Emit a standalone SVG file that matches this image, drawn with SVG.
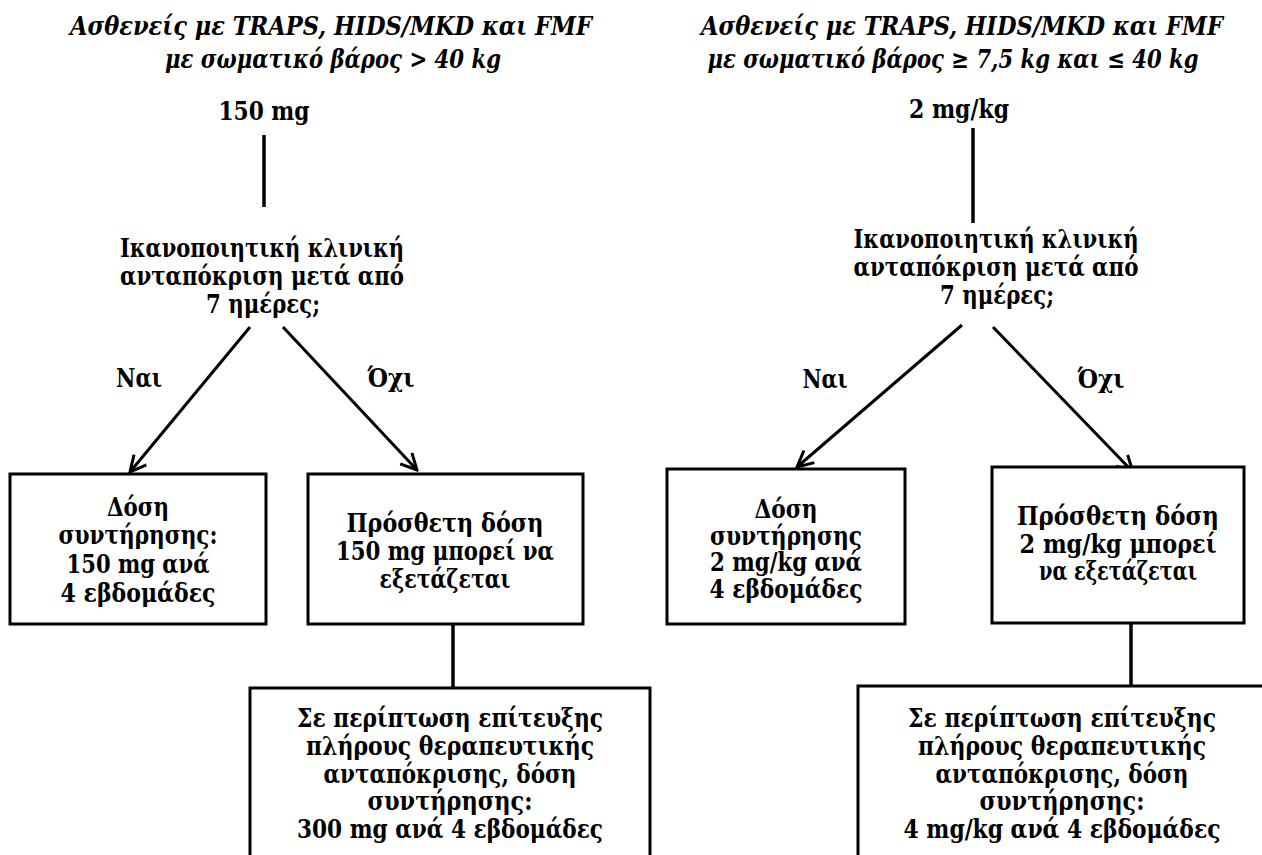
<svg xmlns="http://www.w3.org/2000/svg" width="1262" height="855" viewBox="0 0 1262 855">
<style>
text{font-family:"DejaVu Serif","Liberation Serif",serif;font-weight:bold;font-size:26px;fill:#000;text-anchor:middle}
.ti{font-style:italic}
.box{fill:#fff;stroke:#000;stroke-width:3}
.ln{stroke:#000;stroke-width:3.5;fill:none}
.ar{stroke:#000;stroke-width:3;fill:none}
</style>
<defs>
<marker id="ah" viewBox="0 0 20 20" refX="18" refY="10" markerWidth="20" markerHeight="20" markerUnits="userSpaceOnUse" orient="auto">
<path d="M2,2 L18,10 L2,18" fill="none" stroke="#000" stroke-width="3"/>
</marker>
</defs>
<rect width="1262" height="855" fill="#fff"/>

<g id="connectors">
<line class="ln" x1="264" y1="135" x2="264" y2="207"/>
<line class="ar" x1="250" y1="327" x2="130" y2="472" marker-end="url(#ah)"/>
<line class="ar" x1="283" y1="327" x2="417" y2="470" marker-end="url(#ah)"/>
<line class="ln" x1="453" y1="624" x2="453" y2="688"/>
<line class="ln" x1="973" y1="128" x2="973" y2="223"/>
<line class="ar" x1="962" y1="325" x2="797" y2="467" marker-end="url(#ah)"/>
<line class="ar" x1="993" y1="327" x2="1133" y2="472" marker-end="url(#ah)"/>
<line class="ln" x1="1131" y1="623" x2="1131" y2="686"/>
</g>

<g id="title-left">
<text class="ti" x="331" y="35" textLength="522" lengthAdjust="spacingAndGlyphs">Ασθενείς με TRAPS, HIDS/MKD και FMF</text>
<text class="ti" x="333" y="68" textLength="336" lengthAdjust="spacingAndGlyphs">με σωματικό βάρος &gt; 40 kg</text>
</g>
<g id="dose-left"><text x="264" y="120" textLength="91" lengthAdjust="spacingAndGlyphs">150 mg</text></g>
<g id="question-left">
<text x="262" y="257" textLength="284" lengthAdjust="spacingAndGlyphs">Ικανοποιητική κλινική</text>
<text x="262" y="285" textLength="284" lengthAdjust="spacingAndGlyphs">ανταπόκριση μετά από</text>
<text x="263" y="313" textLength="114" lengthAdjust="spacingAndGlyphs">7 ημέρες;</text>
</g>
<g id="yes-left"><text x="139" y="387" textLength="46" lengthAdjust="spacingAndGlyphs">Ναι</text></g>
<g id="no-left"><text x="391" y="387" textLength="47" lengthAdjust="spacingAndGlyphs">Όχι</text></g>
<g id="box-maint-left">
<rect class="box" x="10" y="474" width="256" height="150"/>
<text x="138" y="516" textLength="62" lengthAdjust="spacingAndGlyphs">Δόση</text>
<text x="138" y="544" textLength="159" lengthAdjust="spacingAndGlyphs">συντήρησης:</text>
<text x="138" y="573" textLength="143" lengthAdjust="spacingAndGlyphs">150 mg ανά</text>
<text x="138" y="602" textLength="155" lengthAdjust="spacingAndGlyphs">4 εβδομάδες</text>
</g>
<g id="box-extra-left">
<rect class="box" x="308" y="474" width="275" height="150"/>
<text x="445" y="532" textLength="197" lengthAdjust="spacingAndGlyphs">Πρόσθετη δόση</text>
<text x="445" y="560" textLength="218" lengthAdjust="spacingAndGlyphs">150 mg μπορεί να</text>
<text x="445" y="588" textLength="131" lengthAdjust="spacingAndGlyphs">εξετάζεται</text>
</g>
<g id="box-full-left">
<rect class="box" x="250" y="688" width="400" height="180"/>
<text x="450" y="727" textLength="306" lengthAdjust="spacingAndGlyphs">Σε περίπτωση επίτευξης</text>
<text x="450" y="755" textLength="288" lengthAdjust="spacingAndGlyphs">πλήρους θεραπευτικής</text>
<text x="450" y="783" textLength="253" lengthAdjust="spacingAndGlyphs">ανταπόκρισης, δόση</text>
<text x="450" y="810" textLength="165" lengthAdjust="spacingAndGlyphs">συντήρησης:</text>
<text x="450" y="838" textLength="306" lengthAdjust="spacingAndGlyphs">300 mg ανά 4 εβδομάδες</text>
</g>

<g id="title-right">
<text class="ti" x="962" y="35" textLength="522" lengthAdjust="spacingAndGlyphs">Ασθενείς με TRAPS, HIDS/MKD και FMF</text>
<text class="ti" x="953" y="68" textLength="491" lengthAdjust="spacingAndGlyphs">με σωματικό βάρος ≥ 7,5 kg και ≤ 40 kg</text>
</g>
<g id="dose-right"><text x="959" y="118" textLength="100" lengthAdjust="spacingAndGlyphs">2 mg/kg</text></g>
<g id="question-right">
<text x="996" y="248" textLength="285" lengthAdjust="spacingAndGlyphs">Ικανοποιητική κλινική</text>
<text x="996" y="276" textLength="285" lengthAdjust="spacingAndGlyphs">ανταπόκριση μετά από</text>
<text x="997" y="304" textLength="114" lengthAdjust="spacingAndGlyphs">7 ημέρες;</text>
</g>
<g id="yes-right"><text x="825" y="388" textLength="45" lengthAdjust="spacingAndGlyphs">Ναι</text></g>
<g id="no-right"><text x="1101" y="388" textLength="47" lengthAdjust="spacingAndGlyphs">Όχι</text></g>
<g id="box-maint-right">
<rect class="box" x="667" y="469" width="238" height="155"/>
<text x="786" y="518" textLength="63" lengthAdjust="spacingAndGlyphs">Δόση</text>
<text x="786" y="545" textLength="152" lengthAdjust="spacingAndGlyphs">συντήρησης</text>
<text x="786" y="571" textLength="152" lengthAdjust="spacingAndGlyphs">2 mg/kg ανά</text>
<text x="786" y="598" textLength="153" lengthAdjust="spacingAndGlyphs">4 εβδομάδες</text>
</g>
<g id="box-extra-right">
<rect class="box" x="992" y="467" width="252" height="156"/>
<text x="1118" y="525" textLength="202" lengthAdjust="spacingAndGlyphs">Πρόσθετη δόση</text>
<text x="1118" y="553" textLength="197" lengthAdjust="spacingAndGlyphs">2 mg/kg μπορεί</text>
<text x="1118" y="580" textLength="158" lengthAdjust="spacingAndGlyphs">να εξετάζεται</text>
</g>
<g id="box-full-right">
<rect class="box" x="858" y="686" width="410" height="180"/>
<text x="1062" y="727" textLength="308" lengthAdjust="spacingAndGlyphs">Σε περίπτωση επίτευξης</text>
<text x="1062" y="755" textLength="288" lengthAdjust="spacingAndGlyphs">πλήρους θεραπευτικής</text>
<text x="1062" y="783" textLength="253" lengthAdjust="spacingAndGlyphs">ανταπόκρισης, δόση</text>
<text x="1062" y="810" textLength="165" lengthAdjust="spacingAndGlyphs">συντήρησης:</text>
<text x="1062" y="838" textLength="317" lengthAdjust="spacingAndGlyphs">4 mg/kg ανά 4 εβδομάδες</text>
</g>
</svg>
